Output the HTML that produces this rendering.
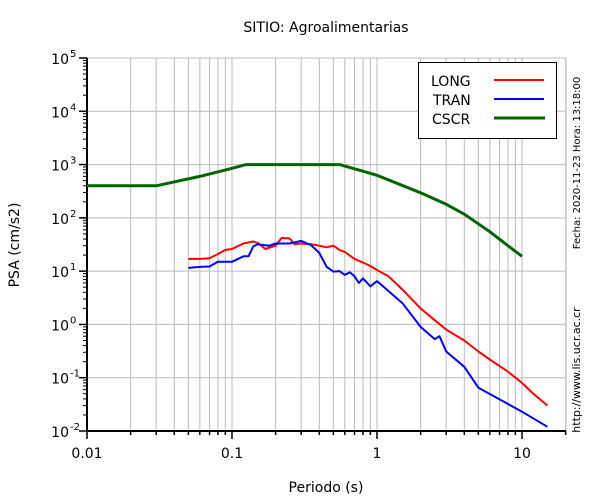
<!DOCTYPE html>
<html><head><meta charset="utf-8"><style>
body{margin:0;background:#fff;}
svg{display:block;font-family:"DejaVu Sans","Liberation Sans",sans-serif;}
</style></head><body>
<svg id="chart" width="600" height="500">
<text x="326" y="32" font-size="14" text-anchor="middle">SITIO: Agroalimentarias</text>
<text x="326" y="492" font-size="14" text-anchor="middle">Periodo (s)</text>
<text transform="translate(19,245) rotate(-90)" font-size="14" text-anchor="middle">PSA (cm/s2)</text>
<text transform="translate(580,163) rotate(-90)" font-size="10" text-anchor="middle">Fecha: 2020-11-23  Hora: 13:18:00</text>
<text transform="translate(580,370) rotate(-90)" font-size="11" text-anchor="middle">http://www.lis.ucr.ac.cr</text>
<g id="grid"></g><g id="axes"></g><g id="series"></g>
<g>
<rect x="418.5" y="62.5" width="138" height="76" fill="#fff" stroke="#000" stroke-width="1"/>
<text x="431" y="86" font-size="14">LONG</text>
<line x1="494" y1="80" x2="544" y2="80" stroke="#f00" stroke-width="2"/>
<text x="433" y="105" font-size="14">TRAN</text>
<line x1="494" y1="99" x2="544" y2="99" stroke="#00f" stroke-width="2"/>
<text x="432" y="124" font-size="14">CSCR</text>
<line x1="494" y1="118" x2="545" y2="118" stroke="#006400" stroke-width="3"/>
</g>
</svg>
<script>
const xTicks=[0.01,0.1,1,10];
const xTickLabels=["0.01","0.1","1","10"];
const yExps=[-2,-1,0,1,2,3,4,5];
const periodsLong=[0.05,0.06,0.07,0.08,0.09,0.1,0.12,0.14,0.15,0.17,0.2,0.22,0.25,0.27,0.3,0.35,0.4,0.45,0.5,0.55,0.6,0.7,0.8,0.9,1,1.2,1.5,2,2.5,3,4,5,6,8,10,12,15];
const valuesLong=[17,17,17.5,21,25,26,33,36,34,26,30,42,41,32,33,32,30,28,30,25,23,17,14.5,12.5,10.5,8,4.5,2,1.2,0.8,0.5,0.31,0.22,0.13,0.08,0.05,0.03];
const periodsTran=[0.05,0.06,0.07,0.08,0.1,0.12,0.13,0.14,0.15,0.18,0.2,0.25,0.3,0.35,0.4,0.45,0.5,0.55,0.6,0.65,0.7,0.75,0.8,0.9,1,1.5,2,2.5,2.7,3,4,5,10,15];
const valuesTran=[11.5,12,12.2,15,15,19,19,29,32,30,33,33,37,31,22,12,9.8,10,8.5,9.5,8,6,7.3,5.2,6.5,2.5,0.9,0.53,0.6,0.31,0.16,0.065,0.023,0.012];
const periodsCscr=[0.01,0.03,0.06,0.1,0.125,0.3,0.55,0.8,1,2,3,4,6,8,10];
const valuesCscr=[400,400,600,850,1000,1000,1000,750,630,295,180,117,55,30,19];
const NS="http://www.w3.org/2000/svg";
const X0=87,X1=566,Y0=431,Y1=58;
const xs=t=>X0+145*Math.log10(t/0.01);
const ys=v=>Y0-(Y0-Y1)*(Math.log10(v)+2)/7;
function mk(tag,attrs,parent){const e=document.createElementNS(NS,tag);for(const k in attrs)e.setAttribute(k,attrs[k]);parent.appendChild(e);return e;}
const grid=document.getElementById('grid'),axes=document.getElementById('axes'),ser=document.getElementById('series');
for(let d=-2;d<=1;d++){for(let m=1;m<=9;m++){const t=m*Math.pow(10,d);const x=xs(t);if(x>X1+0.5)continue;
 const l=mk('line',{x1:x,y1:Y1,x2:x,y2:Y0,stroke:'#bbb','stroke-width':1},grid);
 
 
 const tk=mk('line',{x1:x,y1:Y0,x2:x,y2:Y0+(m===1?8:4),stroke:'#000','stroke-width':1.5},axes);
 
 }}
mk('line',{x1:X1,y1:Y1,x2:X1,y2:Y0,stroke:'#bbb','stroke-width':1},grid);
yExps.forEach(e=>{const y=ys(Math.pow(10,e));
 const l=mk('line',{x1:X0,y1:y,x2:X1,y2:y,stroke:'#bbb','stroke-width':1},grid);
 
 
 const tk=mk('line',{x1:X0-8,y1:y,x2:X0,y2:y,stroke:'#000','stroke-width':1.5},axes);
 
 
 if(e<5)for(let m=2;m<=9;m++){const ym=ys(m*Math.pow(10,e));const t2=mk('line',{x1:X0-4,y1:ym,x2:X0,y2:ym,stroke:'#000','stroke-width':1},axes);
 
 }
 const tx=mk('text',{x:X0-18,y:y+6,'font-size':14,'text-anchor':'end'},axes);
 
 
 tx.textContent='10';
 const sp=mk('text',{x:X0-17,y:y-1,'font-size':10},axes);
 
 
 sp.textContent=String(e);});
xTicks.forEach((t,i)=>{const tx=mk('text',{x:xs(t),y:Y0+27,'font-size':14,'text-anchor':'middle'},axes);
 
 
 tx.textContent=xTickLabels[i];});
const ax=mk('path',{d:`M${X0},${Y1}V${Y0}H${X1}`,fill:'none',stroke:'#000','stroke-width':2},axes);


function line(P,V,color,w,name){const d=P.map((t,i)=>(i?'L':'M')+xs(t).toFixed(1)+','+ys(V[i]).toFixed(1)).join('');
 const p=mk('path',{d:d,fill:'none',stroke:color,'stroke-width':w,'stroke-linejoin':'round'},ser);
 
 }
line(periodsCscr,valuesCscr,'#006400',3,'cscr-line');
line(periodsLong,valuesLong,'#f00',2,'long-line');
line(periodsTran,valuesTran,'#00f',2,'tran-line');
</script>
</body></html>
